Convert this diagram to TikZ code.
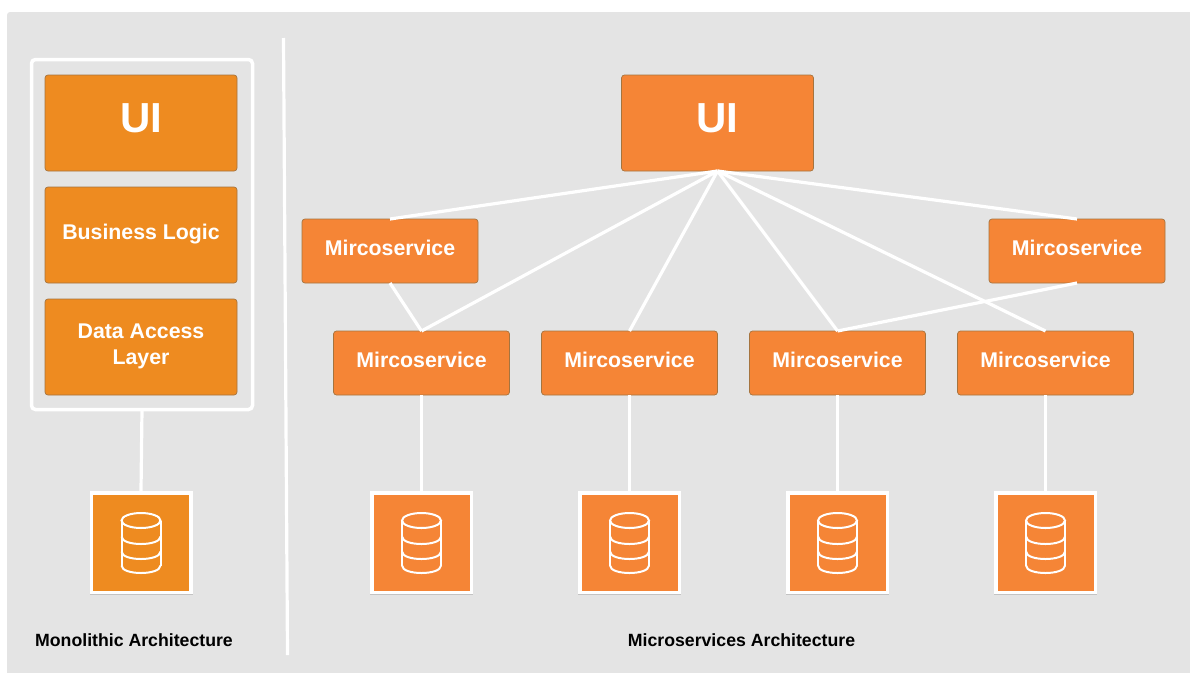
\documentclass[tikz,border=0pt]{standalone}
\usepackage{fontspec}
\setmainfont{Liberation Sans}
\usetikzlibrary{shadows}
\definecolor{panelgray}{HTML}{E4E4E4}
\definecolor{monoorange}{HTML}{EE8B20}
\definecolor{microorange}{HTML}{F58536}
\definecolor{boxedge}{HTML}{A5743F}

\begin{document}
\begin{tikzpicture}[x=1pt, y=-1pt, node distance=208pt,
                    box node/.style={rectangle, rounded corners=3pt, draw=boxedge, line width=0.7pt, outer sep=0pt,
                                     text=white, align=center, font=\bfseries\fontsize{21.3}{26}\selectfont},
                    mono node/.style={box node, fill=monoorange, minimum width=192pt, minimum height=96pt, text depth=6.5pt},
                    big node/.style={font=\bfseries\fontsize{42}{46}\selectfont, text depth=10pt},
                    service node/.style={box node, fill=microorange, minimum width=176pt, minimum height=64pt, text depth=6pt},
                    db node/.style={rectangle, draw=white, line width=3.5pt, fill=microorange, outer sep=1.75pt,
                                    minimum width=99.5pt, minimum height=99.5pt,
                                    drop shadow={shadow xshift=0pt, shadow yshift=-1pt, opacity=0.14, fill=black, draw=black}},
                    link/.style={draw=white, line width=3.2pt},
                    caption node/.style={font=\bfseries\fontsize{17.7}{21}\selectfont}]

  \useasboundingbox (0,0) rectangle (1190,672);
  \fill[panelgray, rounded corners=3pt] (7,12) rectangle (1200,680);

  % left side
  \node[rectangle, rounded corners=4pt, draw=white, line width=3.5pt, outer sep=0pt,
        minimum width=221pt, minimum height=350pt] (panel) at (142,234.5) {};
  \node[mono node, big node] (mono1) at (141,123) {UI};
  \node[mono node] (mono2) [below of=mono1, node distance=112pt] {Business Logic};
  \node[mono node] (mono3) [below of=mono2, node distance=112pt] {Data Access\\Layer};
  \node[db node, fill=monoorange] (db0) at (141,542.5) {};

  % divider
  \coordinate (divtop) at (283.5,38);
  \coordinate (divbottom) at (287.5,655);
  \draw[link] (divtop) -- (divbottom);

  % right side
  \node[mono node, fill=microorange, big node] (ui) at (717.5,123) {UI};
  \node[service node] (top1) at (390,251) {Mircoservice};
  \node[service node] (top2) at (1077,251) {Mircoservice};
  \node[service node] (ms1) at (421.5,363) {Mircoservice};
  \node[service node] (ms2) [right of=ms1] {Mircoservice};
  \node[service node] (ms3) [right of=ms2] {Mircoservice};
  \node[service node] (ms4) [right of=ms3] {Mircoservice};
  \node[db node] (db1) [below of=ms1, node distance=179.5pt] {};
  \node[db node] (db2) [below of=ms2, node distance=179.5pt] {};
  \node[db node] (db3) [below of=ms3, node distance=179.5pt] {};
  \node[db node] (db4) [below of=ms4, node distance=179.5pt] {};

  \node[caption node] (monolabel) at (134,640.5) {Monolithic Architecture};
  \node[caption node] (microlabel) at (741.5,640.5) {Microservices Architecture};

  \path[link]
    (ui.south) edge (top1.north)
    (ui.south) edge (top2.north)
    (ui.south) edge (ms1.north)
    (ui.south) edge (ms2.north)
    (ui.south) edge (ms3.north)
    (ui.south) edge (ms4.north)
    (top1.south) edge (ms1.north)
    (top2.south) edge (ms3.north)
    (panel.south) edge (db0.north)
    (ms1.south) edge (db1.north)
    (ms2.south) edge (db2.north)
    (ms3.south) edge (db3.north)
    (ms4.south) edge (db4.north);

  % cylinder icons
  \foreach \n in {db0,db1,db2,db3,db4} {
    \begin{scope}[shift={(\n.center)}, draw=white, line width=2pt]
      \draw (0,-22) ellipse (19.5pt and 7.5pt);
      \draw (-19.5,-22) -- (-19.5,23);
      \draw (19.5,-22) -- (19.5,23);
      \draw (-19.5,-6) .. controls (-19.5,4) and (19.5,4) .. (19.5,-6);
      \draw (-19.5,9) .. controls (-19.5,19) and (19.5,19) .. (19.5,9);
      \draw (-19.5,23) .. controls (-19.5,33) and (19.5,33) .. (19.5,23);
    \end{scope}
  }
\end{tikzpicture}
\end{document}
